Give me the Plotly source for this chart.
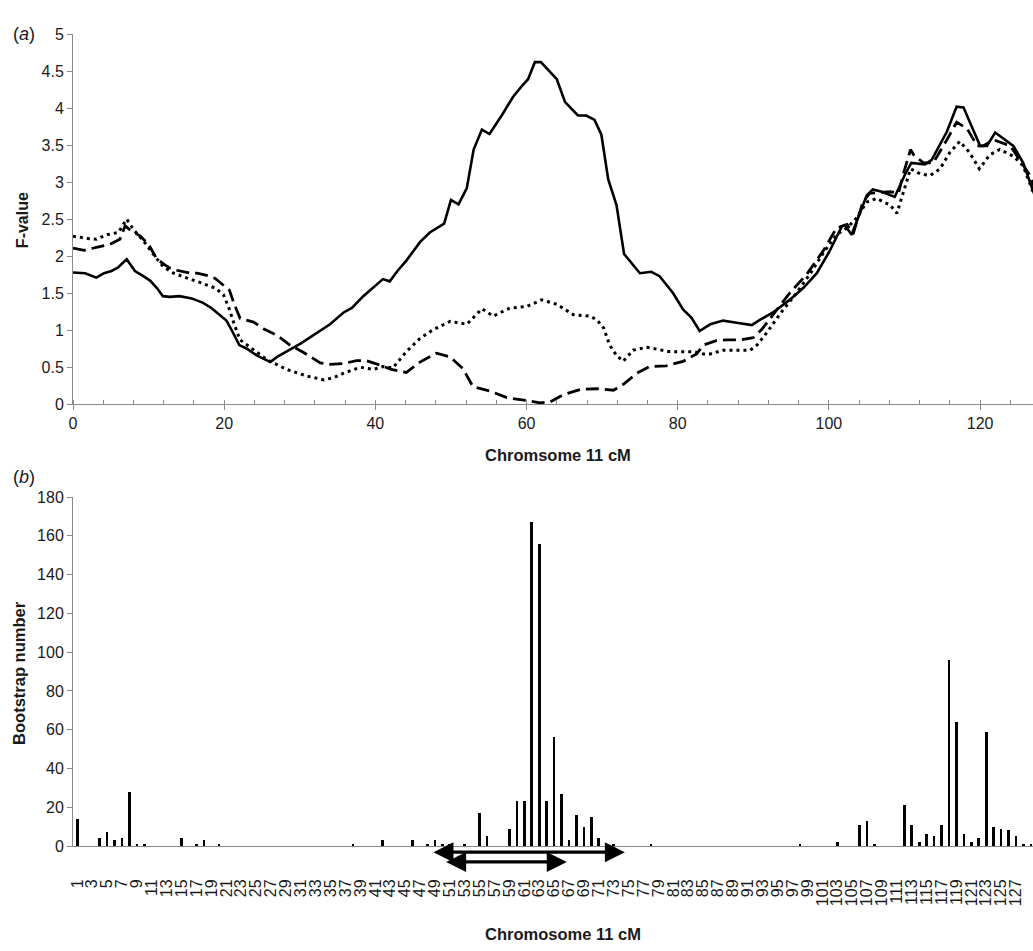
import plotly.graph_objects as go

# ---------------- data: panel (a) F-value profiles ----------------
x_solid = [0, 1.6, 3.1, 4.1, 5.1, 6.0, 7.1, 8.2, 9.3, 10.2, 11.1, 11.9, 12.8, 14.1, 15.7, 17.2, 18.3, 19.4,
           20.3, 21.0, 22.0, 23.0, 24.3, 26.1, 27.0, 30.1, 32.3, 34.0, 35.8, 36.9, 38.4, 41.0, 41.9, 43.0,
           44.1, 45.9, 47.2, 49.1, 50.0, 51.0, 52.1, 53.0, 54.1, 55.1, 56.9, 58.2, 59.4, 60.2, 61.1, 61.9,
           64.0, 65.1, 66.8, 67.9, 69.0, 69.9, 70.8, 71.9, 72.9, 73.9, 75.0, 76.5, 77.6, 79.4, 80.7, 81.8,
           82.9, 84.3, 86.0, 87.8, 89.8, 90.7, 92.6, 94.8, 96.6, 98.4, 100.1, 101.7, 102.1, 103.0, 105.0,
           105.8, 107.0, 108.7, 110.1, 110.9, 112.7, 113.6, 115.6, 116.9, 117.8, 120.0, 120.9, 122.0, 124.4,
           125.7, 127.0, 128.0]
f_solid = [1.78, 1.77, 1.71, 1.77, 1.80, 1.85, 1.96, 1.80, 1.73, 1.67, 1.57, 1.46, 1.45, 1.46, 1.43, 1.37, 1.30, 1.21,
           1.13, 1.00, 0.80, 0.75, 0.66, 0.57, 0.64, 0.82, 0.96, 1.08, 1.24, 1.30, 1.46, 1.69, 1.66, 1.81,
           1.94, 2.19, 2.32, 2.44, 2.76, 2.70, 2.92, 3.44, 3.71, 3.65, 3.93, 4.15, 4.30, 4.39, 4.62, 4.62,
           4.39, 4.08, 3.90, 3.90, 3.84, 3.64, 3.04, 2.69, 2.03, 1.90, 1.77, 1.79, 1.73, 1.50, 1.28, 1.17,
           0.99, 1.08, 1.13, 1.10, 1.07, 1.13, 1.24, 1.41, 1.57, 1.77, 2.07, 2.40, 2.42, 2.29, 2.82,
           2.90, 2.87, 2.80, 3.11, 3.26, 3.24, 3.30, 3.68, 4.02, 4.01, 3.49, 3.49, 3.67, 3.49,
           3.26, 2.87, 2.60]

x_dotted = [0, 1.8, 3.1, 4.5, 6.0, 7.1, 8.0, 9.3, 10.6, 11.9, 13.3, 14.6, 15.9, 17.2, 18.8, 19.9, 20.7, 21.3,
            22.1, 23.9, 25.7, 28.3, 31.0, 33.2, 34.5, 35.8, 38.0, 39.7, 41.0, 42.3, 44.1, 45.9, 47.7, 49.9,
            52.1, 54.1, 55.6, 57.8, 60.0, 62.0, 64.0, 66.2, 68.4, 69.3, 70.2, 71.0, 71.9, 72.8, 74.1, 75.9,
            77.7, 79.0, 80.7, 82.1, 83.4, 84.3, 86.0, 87.8, 89.6, 90.5, 91.8, 93.6, 95.4, 97.5, 99.3, 101.0,
            102.4, 103.7, 105.0, 106.3, 108.1, 109.0, 109.9, 110.8, 112.1, 113.4, 114.7, 116.0, 117.3, 118.6,
            119.9, 121.3, 122.6, 124.4, 125.7, 127.0, 128.0]
f_dotted = [2.27, 2.24, 2.23, 2.29, 2.32, 2.50, 2.36, 2.21, 2.03, 1.86, 1.77, 1.72, 1.68, 1.63, 1.57, 1.48, 1.28, 1.09,
            0.87, 0.73, 0.60, 0.47, 0.38, 0.33, 0.36, 0.42, 0.50, 0.47, 0.51, 0.49, 0.71, 0.89, 1.01, 1.12,
            1.08, 1.29, 1.19, 1.30, 1.32, 1.41, 1.35, 1.21, 1.19, 1.14, 1.03, 0.80, 0.66, 0.58, 0.73, 0.77,
            0.73, 0.71, 0.71, 0.71, 0.68, 0.68, 0.73, 0.73, 0.73, 0.80, 0.97, 1.23, 1.46, 1.76, 2.05, 2.29,
            2.38, 2.52, 2.73, 2.78, 2.69, 2.58, 2.87, 3.18, 3.11, 3.09, 3.18, 3.40, 3.55, 3.40,
            3.18, 3.37, 3.44, 3.35, 3.22, 2.87, 2.60]

x_dashed = [0, 1.5, 3.1, 4.9, 6.2, 6.9, 7.5, 8.9, 10.0, 11.1, 12.2, 12.8, 13.7, 15.5, 16.4, 17.7, 18.8, 19.7,
            20.7, 21.3, 22.1, 23.9, 25.2, 27.0, 28.7, 30.5, 32.7, 34.0, 35.8, 37.5, 38.8, 40.6, 42.1, 44.1,
            45.9, 48.1, 49.9, 51.6, 52.9, 55.1, 57.4, 60.0, 61.8, 63.1, 64.9, 67.1, 69.3, 71.5, 72.8, 74.6,
            76.3, 78.5, 80.7, 82.5, 83.4, 85.1, 86.4, 88.2, 90.0, 91.1, 93.1, 94.8, 97.1, 99.3, 101.0, 102.4,
            103.2, 104.5, 105.4, 108.1, 109.2, 109.9, 110.8, 111.2, 112.5, 113.8, 115.6, 116.9, 118.3, 119.6,
            120.4, 121.8, 124.0, 125.7, 126.6, 128.0]
f_dashed = [2.11, 2.08, 2.12, 2.16, 2.23, 2.41, 2.36, 2.27, 2.16, 1.96, 1.88, 1.84, 1.81, 1.77, 1.77, 1.74, 1.70, 1.63,
            1.54, 1.36, 1.16, 1.11, 1.02, 0.93, 0.80, 0.70, 0.56, 0.54, 0.55, 0.59, 0.59, 0.53, 0.47, 0.43,
            0.57, 0.69, 0.64, 0.48, 0.24, 0.18, 0.09, 0.05, 0.02, 0.03, 0.13, 0.20, 0.21, 0.19, 0.27, 0.42,
            0.51, 0.52, 0.58, 0.68, 0.80, 0.86, 0.87, 0.87, 0.90, 1.01, 1.28, 1.50, 1.76, 2.08, 2.38, 2.43,
            2.30, 2.73, 2.85, 2.87, 2.85, 3.13, 3.44, 3.37, 3.26, 3.26, 3.57, 3.81, 3.72, 3.49,
            3.49, 3.57, 3.49, 3.22, 3.09, 2.70]

f_ticks = [0, 0.5, 1, 1.5, 2, 2.5, 3, 3.5, 4, 4.5, 5]
f_ticklabels = ["0", "0.5", "1", "1.5", "2", "2.5", "3", "3.5", "4", "4.5", "5"]
cm_ticks = [0, 20, 40, 60, 80, 100, 120]

# ---------------- data: panel (b) bootstrap counts ----------------
positions = list(range(1, 130))
boot_nonzero = {
    1: 14, 4: 4, 5: 7, 6: 3, 7: 4, 8: 28, 9: 1, 10: 1, 15: 4, 17: 1, 18: 3, 20: 1,
    38: 1, 42: 3, 46: 3, 48: 1, 49: 3, 50: 1, 51: 1, 53: 1, 55: 17, 56: 5,
    59: 9, 60: 23, 61: 23, 62: 167, 63: 156, 64: 23, 65: 56, 66: 27, 67: 3, 68: 16, 69: 10, 70: 15, 71: 4,
    73: 1, 78: 1, 98: 1, 103: 2, 106: 11, 107: 13, 108: 1,
    112: 21, 113: 11, 114: 2, 115: 6, 116: 5, 117: 11, 118: 96, 119: 64, 120: 6, 121: 2, 122: 4,
    123: 59, 124: 10, 125: 9, 126: 8, 127: 5, 128: 1, 129: 1,
}
boot_counts = [boot_nonzero.get(p, 0) for p in positions]
boot_ticks = list(range(1, 130, 2))
boot_ticklabels = [str(v) for v in boot_ticks]
boot_yticks = list(range(0, 181, 20))

ci_outer = [48.6, 74.5]
ci_inner = [50.3, 66.7]

top_title = "Chromsome 11 cM"
bottom_title = "Chromosome 11 cM"

# ---------------- figure ----------------
W, H = 1033, 951
L = 73
PW = W - L

def px_x(px):
    return (px - L) / PW

def px_y(py):
    return (H - py) / H

AXC = "#8a8a8a"
TXT = "#1a1a1a"
FONT = "Liberation Sans, Arial, sans-serif"

fig = go.Figure()
fig.add_trace(go.Scatter(x=x_solid, y=f_solid, mode="lines", xaxis="x", yaxis="y",
                         line=dict(color="black", width=2.6), showlegend=False))
fig.add_trace(go.Scatter(x=x_dotted, y=f_dotted, mode="lines", xaxis="x", yaxis="y",
                         line=dict(color="black", width=3, dash="3px,4px"), showlegend=False))
fig.add_trace(go.Scatter(x=x_dashed, y=f_dashed, mode="lines", xaxis="x", yaxis="y",
                         line=dict(color="black", width=2.8, dash="13px,6px"), showlegend=False))
fig.add_trace(go.Bar(x=positions, y=boot_counts, xaxis="x2", yaxis="y2", width=0.36,
                     marker=dict(color="black", line=dict(width=0)), showlegend=False))

top_dom = [px_y(403.5), px_y(26.5)]
bot_dom = [px_y(853.3), px_y(498)]

fig.update_layout(
    width=W, height=H,
    margin=dict(l=L, r=0, t=0, b=0),
    paper_bgcolor="white", plot_bgcolor="white",
    font=dict(family=FONT, size=15, color=TXT),
    xaxis=dict(domain=[0, 1], anchor="y", range=[0, 127], tickvals=cm_ticks,
               showline=True, linecolor=AXC, linewidth=1, ticks="outside", ticklen=5, tickcolor=AXC,
               minor=dict(dtick=4, tick0=0, ticks="inside", ticklen=4, tickcolor=AXC),
               showgrid=False, zeroline=False, tickfont=dict(size=16, color=TXT)),
    yaxis=dict(domain=top_dom, anchor="x", range=[0, 5], tickvals=f_ticks, ticktext=f_ticklabels,
               showline=True, linecolor=AXC, linewidth=1, ticks="outside", ticklen=5, tickcolor=AXC,
               showgrid=False, zeroline=False, tickfont=dict(size=16, color=TXT)),
    xaxis2=dict(domain=[0, 1], anchor="y2", range=[0.42, 129.28], tickvals=boot_ticks,
                ticktext=boot_ticklabels, tickangle=-90,
                showline=True, linecolor=AXC, linewidth=1, ticks="outside", ticklen=26,
                tickcolor="rgba(0,0,0,0)", showgrid=False, zeroline=False,
                tickfont=dict(size=16, color=TXT)),
    yaxis2=dict(domain=bot_dom, anchor="x2", range=[0, 180], tickvals=boot_yticks,
                showline=True, linecolor=AXC, linewidth=1, ticks="outside", ticklen=5, tickcolor=AXC,
                showgrid=False, zeroline=False, tickfont=dict(size=16, color=TXT)),
    bargap=0,
)

ann = []
ann.append(dict(xref="paper", yref="paper", x=px_x(11), y=px_y(26), text="(<i>a</i>)",
                showarrow=False, xanchor="left", yanchor="middle", font=dict(size=18, color=TXT)))
ann.append(dict(xref="paper", yref="paper", x=px_x(11), y=px_y(478), text="(<i>b</i>)",
                showarrow=False, xanchor="left", yanchor="middle", font=dict(size=18, color=TXT)))
ann.append(dict(xref="paper", yref="paper", x=px_x(22), y=px_y(216), text="<b>F-value</b>",
                textangle=-90, showarrow=False, xanchor="center", yanchor="middle",
                font=dict(size=16, color=TXT)))
ann.append(dict(xref="paper", yref="paper", x=px_x(19), y=px_y(677), text="<b>Bootstrap number</b>",
                textangle=-90, showarrow=False, xanchor="center", yanchor="middle",
                font=dict(size=16.5, color=TXT)))
ann.append(dict(xref="paper", yref="paper", x=px_x(558), y=px_y(455), text="<b>" + top_title + "</b>",
                showarrow=False, xanchor="center", yanchor="middle", font=dict(size=16.5, color=TXT)))
ann.append(dict(xref="paper", yref="paper", x=px_x(563), y=px_y(943), text="<b>" + bottom_title + "</b>",
                showarrow=False, xanchor="center", yanchor="middle", font=dict(size=16.5, color=TXT)))

for ci, ypx in ((ci_outer, 859.5), (ci_inner, 869.5)):
    ann.append(dict(xref="x2", yref="paper", x=ci[1], y=px_y(ypx), axref="x2", ayref="pixel",
                    ax=ci[0], ay=0, text="", showarrow=True, arrowhead=2, arrowside="end+start",
                    arrowsize=1.25, arrowwidth=3.2, arrowcolor="black"))

fig.update_layout(annotations=ann)

fig.write_html("out.html",
               config={"displayModeBar": False},
               post_script="document.body.style.margin='0';document.body.style.overflow='hidden';")
